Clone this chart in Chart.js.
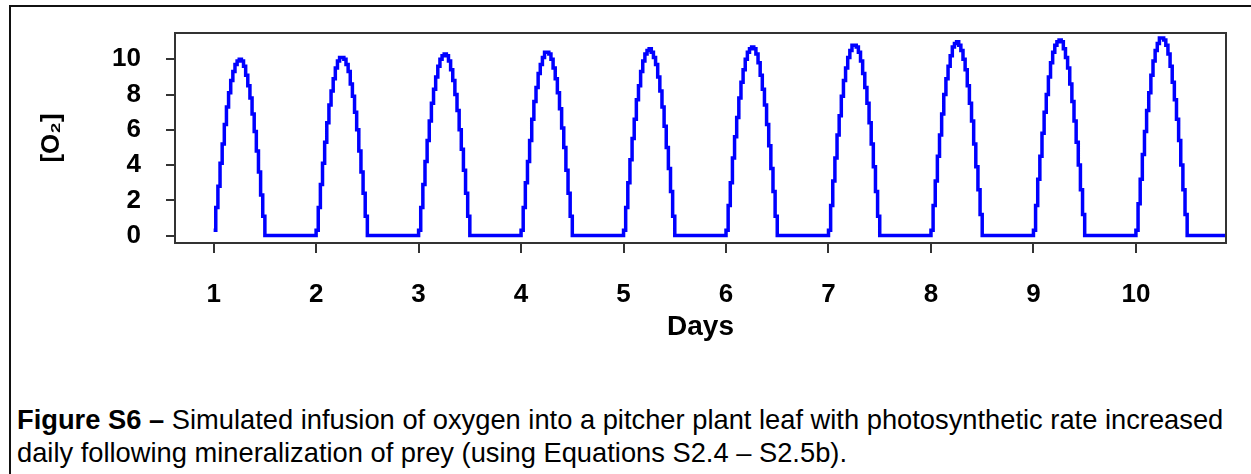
<!DOCTYPE html>
<html>
<head>
<meta charset="utf-8">
<script src="https://cdn.jsdelivr.net/npm/chart.js@4.4.1/dist/chart.umd.min.js"></script>
<style>
    html, body { margin: 0; padding: 0; background: #fff; width: 1251px; height: 474px; overflow: hidden; }
    #frame {
        position: absolute; left: 9px; top: 5px; width: 1300px; height: 520px;
        border-left: 2px solid #111; border-top: 2px solid #111;
    }
    #chart-wrap { position: absolute; left: 0; top: 0; width: 1251px; height: 370px; }
    #caption {
        position: absolute; left: 17px; top: 403px; width: 1240px; white-space: nowrap;
        font-family: "Liberation Sans", Arial, sans-serif; font-size: 27.3px; line-height: 33px; color: #000;
    }
</style>
</head>
<body>
<div id="frame"></div>
<div id="chart-wrap"><canvas id="main-chart"></canvas></div>
<div id="caption"><b>Figure S6 –</b> Simulated infusion of oxygen into a pitcher plant leaf with photosynthetic rate increased<br>daily following mineralization of prey (using Equations S2.4 – S2.5b).</div>
<script>
const days = [1, 2, 3, 4, 5, 6, 7, 8, 9, 10];
const xTicks = [1, 2, 3, 4, 5, 6, 7, 8, 9, 10];
const yTicks = [0, 2, 4, 6, 8, 10];

// O2 every half hour from the start of each day until it drops to 0
const stepDays = 1 / 48;
const o2ByDay = [
    [0.3, 1.6, 2.8, 4.1, 5.2, 6.3, 7.3, 8.1, 8.8, 9.3, 9.7, 9.9, 10.0, 9.9, 9.6, 9.1, 8.5, 7.8, 6.9, 5.9, 4.8, 3.6, 2.3, 1.1],
    [0.3, 1.6, 2.9, 4.1, 5.3, 6.4, 7.4, 8.2, 8.9, 9.5, 9.9, 10.1, 10.1, 10.0, 9.7, 9.3, 8.6, 7.9, 7.0, 6.0, 4.8, 3.6, 2.4, 1.1],
    [0.3, 1.6, 2.9, 4.2, 5.4, 6.5, 7.5, 8.3, 9.0, 9.6, 10.0, 10.2, 10.3, 10.2, 9.9, 9.4, 8.8, 8.0, 7.1, 6.0, 4.9, 3.7, 2.4, 1.1],
    [0.3, 1.6, 3.0, 4.2, 5.4, 6.6, 7.6, 8.4, 9.2, 9.7, 10.1, 10.4, 10.4, 10.3, 10.0, 9.5, 8.9, 8.1, 7.2, 6.1, 5.0, 3.7, 2.4, 1.1],
    [0.3, 1.6, 3.0, 4.3, 5.5, 6.6, 7.7, 8.5, 9.3, 9.9, 10.3, 10.5, 10.6, 10.4, 10.1, 9.7, 9.0, 8.2, 7.3, 6.2, 5.0, 3.8, 2.5, 1.1],
    [0.3, 1.7, 3.0, 4.4, 5.6, 6.7, 7.8, 8.7, 9.4, 10.0, 10.4, 10.6, 10.7, 10.6, 10.3, 9.8, 9.1, 8.3, 7.4, 6.3, 5.1, 3.8, 2.5, 1.1],
    [0.3, 1.7, 3.1, 4.4, 5.7, 6.8, 7.9, 8.8, 9.5, 10.1, 10.5, 10.8, 10.8, 10.7, 10.4, 9.9, 9.2, 8.4, 7.5, 6.4, 5.2, 3.9, 2.5, 1.1],
    [0.3, 1.7, 3.1, 4.5, 5.7, 6.9, 8.0, 8.9, 9.6, 10.2, 10.7, 10.9, 11.0, 10.8, 10.5, 10.0, 9.4, 8.5, 7.5, 6.5, 5.2, 3.9, 2.6, 1.2],
    [0.3, 1.7, 3.2, 4.5, 5.8, 7.0, 8.0, 9.0, 9.8, 10.4, 10.8, 11.0, 11.1, 11.0, 10.6, 10.1, 9.5, 8.6, 7.6, 6.5, 5.3, 4.0, 2.6, 1.2],
    [0.3, 1.8, 3.2, 4.6, 5.9, 7.1, 8.1, 9.1, 9.9, 10.5, 10.9, 11.2, 11.2, 11.1, 10.8, 10.3, 9.6, 8.7, 7.7, 6.6, 5.4, 4.0, 2.6, 1.2]
];
const endDay = 10.9;

const points = [];
days.forEach((d, i) => {
    o2ByDay[i].forEach((v, k) => points.push({x: d + k * stepDays, y: v}));
    points.push({x: d + o2ByDay[i].length * stepDays, y: 0});
});
points.push({x: endDay, y: 0});

const axisColor = '#333';
const fontFamily = '"Liberation Sans", Arial, sans-serif';
const tickFont = {family: fontFamily, size: 26, weight: 'bold'};

const plotBox = {
    id: 'plotBox',
    afterDatasetsDraw(chart) {
        const {ctx, chartArea: a} = chart;
        ctx.save();
        ctx.strokeStyle = axisColor;
        ctx.lineWidth = 2;
        ctx.strokeRect(a.left, a.top, a.right - a.left, a.bottom - a.top);
        ctx.restore();
    }
};

new Chart(document.getElementById('main-chart'), {
    type: 'line',
    data: {
        datasets: [{
            data: points,
            borderColor: '#0000ff',
            borderWidth: 3.5,
            stepped: true,
            pointRadius: 0,
            fill: false
        }]
    },
    options: {
        responsive: true,
        maintainAspectRatio: false,
        animation: false,
        layout: {padding: {top: 33, right: 25, left: 0, bottom: 0}},
        plugins: {legend: {display: false}, tooltip: {enabled: false}},
        scales: {
            x: {
                type: 'linear',
                min: 0.623,
                max: 10.879,
                afterFit: s => { s.height = 127; s.paddingLeft = 0; s.paddingRight = 0; },
                afterBuildTicks: s => { s.ticks = xTicks.map(v => ({value: v})); },
                grid: {drawOnChartArea: false, drawTicks: true, tickLength: 10, color: axisColor, lineWidth: 2},
                border: {display: false},
                ticks: {font: tickFont, color: '#000', padding: 26, maxRotation: 0},
                title: {display: true, text: 'Days', font: {family: fontFamily, size: 28, weight: 'bold'}, color: '#000', padding: {top: 0, bottom: 26}}
            },
            y: {
                type: 'linear',
                min: -0.42,
                max: 11.49,
                afterFit: s => { s.width = 175; s.paddingTop = 0; s.paddingBottom = 0; },
                afterBuildTicks: s => { s.ticks = yTicks.map(v => ({value: v})); },
                grid: {drawOnChartArea: false, drawTicks: true, tickLength: 9, color: axisColor, lineWidth: 2},
                border: {display: false},
                ticks: {font: tickFont, color: '#000', padding: 25},
                title: {display: true, text: '[O₂]', font: {family: fontFamily, size: 26, weight: 'bold'}, color: '#000', padding: {top: 36, bottom: 0}}
            }
        }
    },
    plugins: [plotBox]
});
</script>
</body>
</html>
